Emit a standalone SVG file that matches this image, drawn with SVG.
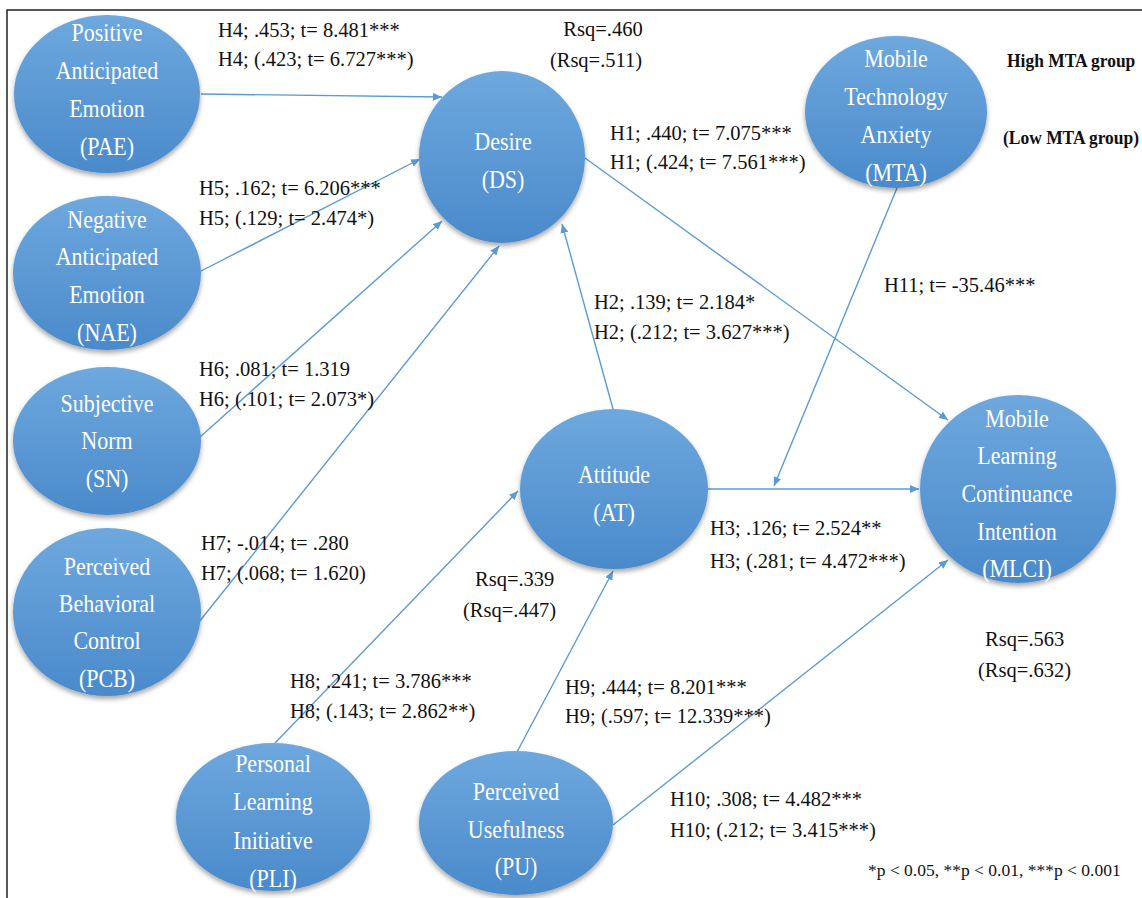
<svg xmlns="http://www.w3.org/2000/svg" width="1142" height="898" viewBox="0 0 1142 898">
<style>
text{font-family:'Liberation Serif','DejaVu Serif',serif}
.nt{font-size:25px;fill:#ffffff;text-anchor:middle}
.lb{font-size:20.5px;fill:#111111}
.bd{font-size:18px;font-weight:bold;fill:#111111}
.fn{font-size:17.5px;fill:#111111}
.el{fill:url(#g);filter:url(#sh)}
.cn{stroke:#5b9bd5;stroke-width:1.4;fill:none;marker-end:url(#ar)}
</style>
<defs>
<linearGradient id="g" x1="0" y1="0" x2="0" y2="1">
<stop offset="0" stop-color="#6ea8de"/>
<stop offset="1" stop-color="#4a8acb"/>
</linearGradient>
<filter id="sh" x="-20%" y="-20%" width="140%" height="140%">
<feDropShadow dx="0" dy="3" stdDeviation="2.5" flood-color="#000" flood-opacity="0.35"/>
</filter>
<marker id="ar" markerUnits="userSpaceOnUse" markerWidth="10" markerHeight="8" refX="9" refY="4" orient="auto">
<path d="M0,0 L9,4 L0,8 Z" fill="#5b9bd5"/>
</marker>
</defs>
<rect width="1142" height="898" fill="#ffffff"/>
<path d="M7,898 L7,10 L1142,10" stroke="#222" stroke-width="1.5" fill="none"/>

<g id="connectors">
<path class="cn" d="M201,94 L442,97"/>
<path class="cn" d="M201,271 L420,159"/>
<path class="cn" d="M200,437 L442,221"/>
<path class="cn" d="M199,622 L499,246"/>
<path class="cn" d="M613,409 L562,224"/>
<path class="cn" d="M585,158 L948,420"/>
<path class="cn" d="M708,489 L919,489"/>
<path class="cn" d="M897,188 L774,486"/>
<path class="cn" d="M275,743 L518,491"/>
<path class="cn" d="M517,752 L613,571"/>
<path class="cn" d="M613,825 L948,560"/>
</g>

<g id="PAE">
<ellipse class="el" cx="107" cy="94" rx="93" ry="79"/>
<g transform="translate(107 0) scale(0.88 1)">
<text class="nt" x="0" y="41">Positive</text>
<text class="nt" x="0" y="79">Anticipated</text>
<text class="nt" x="0" y="117">Emotion</text>
<text class="nt" x="0" y="155">(PAE)</text>
</g>
</g>

<g id="NAE">
<ellipse class="el" cx="107" cy="273" rx="94" ry="77"/>
<g transform="translate(107 0) scale(0.88 1)">
<text class="nt" x="0" y="228">Negative</text>
<text class="nt" x="0" y="265">Anticipated</text>
<text class="nt" x="0" y="303">Emotion</text>
<text class="nt" x="0" y="341">(NAE)</text>
</g>
</g>

<g id="SN">
<ellipse class="el" cx="107" cy="441" rx="94" ry="74"/>
<g transform="translate(107 0) scale(0.88 1)">
<text class="nt" x="0" y="412">Subjective</text>
<text class="nt" x="0" y="449">Norm</text>
<text class="nt" x="0" y="487">(SN)</text>
</g>
</g>

<g id="PCB">
<ellipse class="el" cx="107" cy="612" rx="94" ry="84"/>
<g transform="translate(107 0) scale(0.88 1)">
<text class="nt" x="0" y="575">Perceived</text>
<text class="nt" x="0" y="612">Behavioral</text>
<text class="nt" x="0" y="649">Control</text>
<text class="nt" x="0" y="687">(PCB)</text>
</g>
</g>

<g id="DS">
<ellipse class="el" cx="502" cy="157" rx="83" ry="86"/>
<g transform="translate(503 0) scale(0.88 1)">
<text class="nt" x="0" y="150">Desire</text>
<text class="nt" x="0" y="188">(DS)</text>
</g>
</g>

<g id="MTA">
<ellipse class="el" cx="896" cy="112" rx="91" ry="76"/>
<g transform="translate(896 0) scale(0.88 1)">
<text class="nt" x="0" y="67">Mobile</text>
<text class="nt" x="0" y="105">Technology</text>
<text class="nt" x="0" y="143">Anxiety</text>
<text class="nt" x="0" y="181">(MTA)</text>
</g>
</g>

<g id="AT">
<ellipse class="el" cx="614" cy="489" rx="94" ry="80"/>
<g transform="translate(614 0) scale(0.88 1)">
<text class="nt" x="0" y="483">Attitude</text>
<text class="nt" x="0" y="521">(AT)</text>
</g>
</g>

<g id="MLCI">
<ellipse class="el" cx="1018" cy="489" rx="98" ry="94"/>
<g transform="translate(1017 0) scale(0.88 1)">
<text class="nt" x="0" y="427">Mobile</text>
<text class="nt" x="0" y="464">Learning</text>
<text class="nt" x="0" y="502">Continuance</text>
<text class="nt" x="0" y="540">Intention</text>
<text class="nt" x="0" y="577">(MLCI)</text>
</g>
</g>

<g id="PLI">
<ellipse class="el" cx="273" cy="817" rx="97" ry="74"/>
<g transform="translate(273 0) scale(0.88 1)">
<text class="nt" x="0" y="772">Personal</text>
<text class="nt" x="0" y="810">Learning</text>
<text class="nt" x="0" y="849">Initiative</text>
<text class="nt" x="0" y="887">(PLI)</text>
</g>
</g>

<g id="PU">
<ellipse class="el" cx="516" cy="823" rx="97" ry="72"/>
<g transform="translate(516 0) scale(0.88 1)">
<text class="nt" x="0" y="800">Perceived</text>
<text class="nt" x="0" y="838">Usefulness</text>
<text class="nt" x="0" y="875">(PU)</text>
</g>
</g>

<g id="labels">
<text class="lb" x="218" y="37">H4; .453; t= 8.481***</text>
<text class="lb" x="218" y="66">H4; (.423; t= 6.727***)</text>
<text class="lb" x="603" y="36" text-anchor="middle">Rsq=.460</text>
<text class="lb" x="596" y="67" text-anchor="middle">(Rsq=.511)</text>
<text class="lb" x="199" y="195">H5; .162; t= 6.206***</text>
<text class="lb" x="199" y="225">H5; (.129; t= 2.474*)</text>
<text class="lb" x="199" y="376">H6; .081; t= 1.319</text>
<text class="lb" x="199" y="406">H6; (.101; t= 2.073*)</text>
<text class="lb" x="201" y="550">H7; -.014; t= .280</text>
<text class="lb" x="201" y="580">H7; (.068; t= 1.620)</text>
<text class="lb" x="610" y="140">H1; .440; t= 7.075***</text>
<text class="lb" x="610" y="169">H1; (.424; t= 7.561***)</text>
<text class="lb" x="594" y="309">H2; .139; t= 2.184*</text>
<text class="lb" x="594" y="339">H2; (.212; t= 3.627***)</text>
<text class="lb" x="884" y="292">H11; t= -35.46***</text>
<text class="lb" x="710" y="535">H3; .126; t= 2.524**</text>
<text class="lb" x="710" y="568">H3; (.281; t= 4.472***)</text>
<text class="lb" x="475" y="586">Rsq=.339</text>
<text class="lb" x="463" y="617">(Rsq=.447)</text>
<text class="lb" x="985" y="646">Rsq=.563</text>
<text class="lb" x="978" y="677">(Rsq=.632)</text>
<text class="lb" x="290" y="688">H8; .241; t= 3.786***</text>
<text class="lb" x="290" y="718">H8; (.143; t= 2.862**)</text>
<text class="lb" x="565" y="694">H9; .444; t= 8.201***</text>
<text class="lb" x="565" y="723">H9; (.597; t= 12.339***)</text>
<text class="lb" x="670" y="806">H10; .308; t= 4.482***</text>
<text class="lb" x="670" y="837">H10; (.212; t= 3.415***)</text>
<text class="bd" transform="translate(1007 67) scale(0.97 1)">High MTA group</text>
<text class="bd" transform="translate(1003 144) scale(0.97 1)">(Low MTA group)</text>
<text class="fn" x="868" y="876">*p &lt; 0.05, **p &lt; 0.01, ***p &lt; 0.001</text>
</g>
</svg>
